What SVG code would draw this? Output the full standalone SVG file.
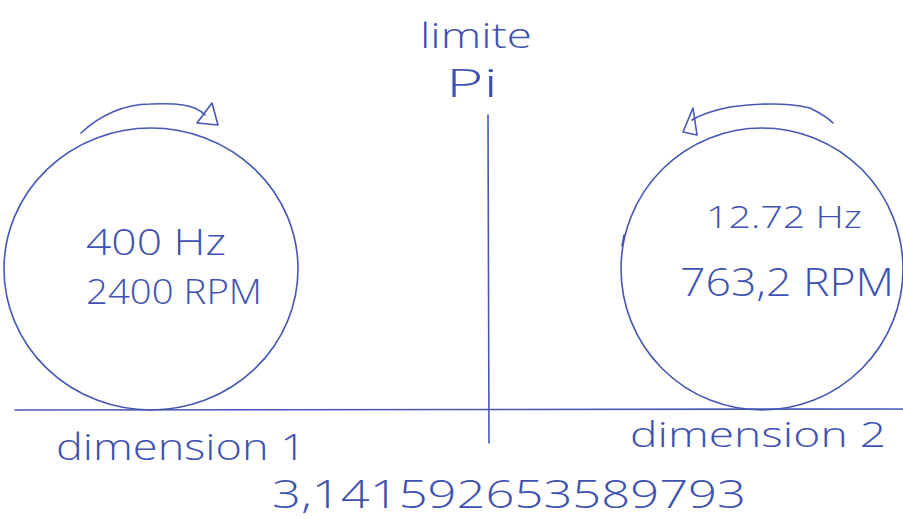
<svg xmlns="http://www.w3.org/2000/svg" width="903" height="519" viewBox="0 0 903 519">
<style>
.ln{fill:none;stroke:#4658b4;stroke-width:1.6;stroke-linecap:round;stroke-linejoin:round}
.tx{font-family:"Open Sans","Liberation Sans","DejaVu Sans",sans-serif;fill:#3f52b0;font-weight:300}
</style>
<rect width="903" height="519" fill="#ffffff"/>
<g id="axes">
<line class="ln" x1="15" y1="410" x2="903" y2="409"/>
<line class="ln" x1="488" y1="115" x2="489" y2="443"/>
</g>
<g id="limite">
<text class="tx" x="420" y="48" font-size="34" textLength="112" lengthAdjust="spacingAndGlyphs">limite</text>
<text class="tx" x="446" y="97" font-size="38" textLength="52" lengthAdjust="spacingAndGlyphs">Pi</text>
</g>
<g id="dimension1">
<ellipse class="ln" cx="151" cy="269" rx="147" ry="141"/>
<text class="tx" x="86" y="255" font-size="36" textLength="140" lengthAdjust="spacingAndGlyphs">400 Hz</text>
<text class="tx" x="86" y="304" font-size="34" textLength="176" lengthAdjust="spacingAndGlyphs">2400 RPM</text>
<text class="tx" x="56" y="460" font-size="36" textLength="250" lengthAdjust="spacingAndGlyphs">dimension 1</text>
</g>
<g id="dimension2">
<ellipse class="ln" cx="762" cy="269" rx="141" ry="141"/>
<line class="ln" x1="624" y1="235" x2="622" y2="246"/>
<text class="tx" x="706" y="228" font-size="32" textLength="156" lengthAdjust="spacingAndGlyphs">12.72 Hz</text>
<text class="tx" x="680" y="296" font-size="38" textLength="214" lengthAdjust="spacingAndGlyphs">763,2 RPM</text>
<text class="tx" x="630" y="447" font-size="34" textLength="256" lengthAdjust="spacingAndGlyphs">dimension 2</text>
</g>
<g id="pi-value">
<text class="tx" x="272" y="508" font-size="38" textLength="474" lengthAdjust="spacingAndGlyphs">3,141592653589793</text>
</g>
<g id="connectors">
<path class="ln" d="M81 133 C100 115 125 104 150 104 C175 103 195 104 205 115"/>
<path class="ln" d="M212 103 L197 123 L218 125 Z"/>
<path class="ln" d="M833 123 C825 115 818 112 810 108 C790 103 760 103 730 107 C715 110 700 115 692 120"/>
<path class="ln" d="M693 108 L683 132 L697 135 Z"/>
</g>
</svg>
